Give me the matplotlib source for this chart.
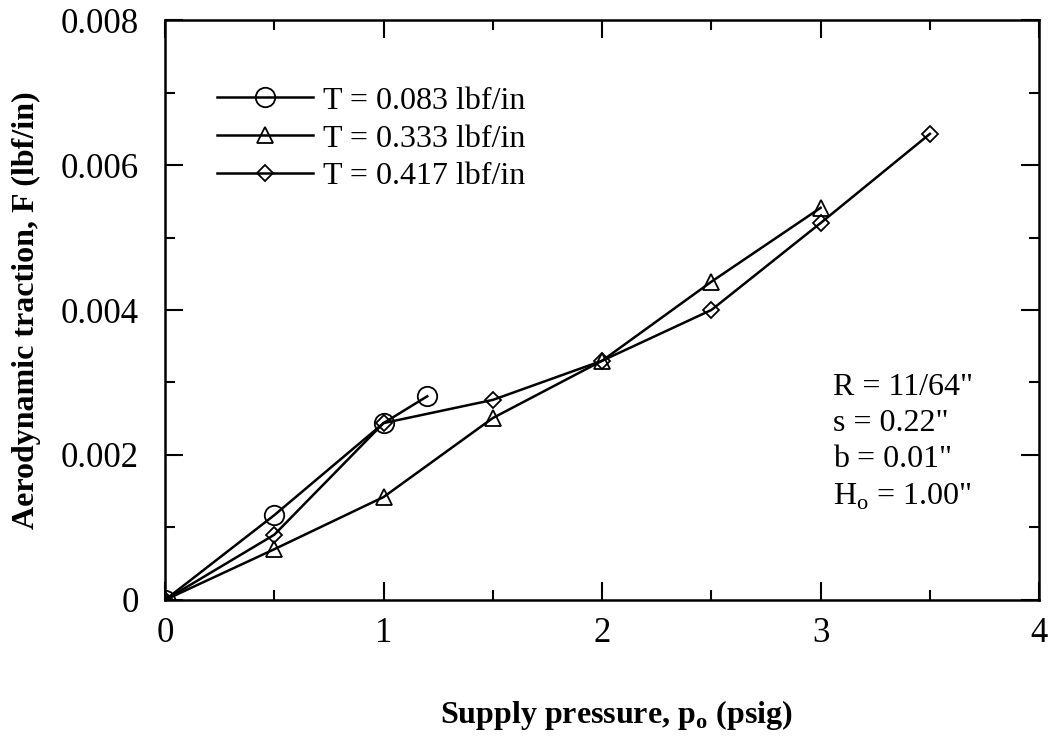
import numpy as np
import matplotlib
matplotlib.use('Agg')
import matplotlib.pyplot as plt
from matplotlib.ticker import MultipleLocator

plt.rcParams['font.family'] = ['Liberation Serif', 'DejaVu Serif']
plt.rcParams['mathtext.fontset'] = 'custom'
plt.rcParams['mathtext.rm'] = 'Liberation Serif'
plt.rcParams['mathtext.bf'] = 'Liberation Serif:bold'

# data
p_083 = [0, 0.5, 1.0, 1.2]
F_083 = [0, 0.00117, 0.00244, 0.00281]

p_333 = [0, 0.5, 1.0, 1.5, 2.0, 2.5, 3.0]
F_333 = [0, 0.0007, 0.00142, 0.00251, 0.0033, 0.00439, 0.00541]

p_417 = [0, 0.5, 1.0, 1.5, 2.0, 2.5, 3.0, 3.5]
F_417 = [0, 0.0009, 0.00244, 0.00276, 0.0033, 0.0040, 0.0052, 0.00643]

labels = ['T = 0.083 lbf/in', 'T = 0.333 lbf/in', 'T = 0.417 lbf/in']
xticks = [0, 1, 2, 3, 4]
yticks = [0, 0.002, 0.004, 0.006, 0.008]
ytick_labels = ['0', '0.002', '0.004', '0.006', '0.008']

fig = plt.figure(figsize=(10.55, 7.36), dpi=100)
ax = fig.add_axes([0.1564, 0.1848, 0.8286, 0.788])

lw = 1.8
ax.plot(p_083, F_083, color='black', lw=lw, marker='o', ms=14, mfc='none', mew=1.3, label=labels[0])
ax.plot(p_333, F_333, color='black', lw=lw, marker='^', ms=12, mfc='none', mew=1.3, label=labels[1])
ax.plot(p_417, F_417, color='black', lw=lw, marker='D', ms=8.5, mfc='none', mew=1.3, label=labels[2])

ax.set_xlim(0, 4)
ax.set_ylim(0, 0.008)
ax.set_xticks(xticks)
ax.set_xticklabels([str(v) for v in xticks])
ax.set_yticks(yticks)
ax.set_yticklabels(ytick_labels)
ax.xaxis.set_minor_locator(MultipleLocator(0.5))
ax.yaxis.set_minor_locator(MultipleLocator(0.001))

ax.tick_params(which='both', direction='in', top=True, right=True, width=1.5)
ax.tick_params(which='major', length=13, labelsize=25)
ax.tick_params(which='minor', length=7)
ax.tick_params(axis='x', which='major', pad=12)
ax.tick_params(axis='y', which='major', pad=19)
for s in ax.spines.values():
    s.set_linewidth(1.8)

ax.set_xlabel(r'Supply pressure, p$_\mathbf{o}$ (psig)', fontsize=23, fontweight='bold', labelpad=35)
ax.xaxis.label.set_x(0.516)
ax.set_ylabel('Aerodynamic traction, F (lbf/in)', fontsize=23, fontweight='bold', labelpad=14)

ax.legend(loc='upper left', bbox_to_anchor=(0.045, 0.908), borderaxespad=0, frameon=False,
          fontsize=23, handlelength=3.0, handletextpad=0.3, labelspacing=0.27)

ax.text(0.764, 0.391, "R = 11/64\"\ns = 0.22\"\nb = 0.01\"\nH$_\\mathrm{o}$ = 1.00\"",
        transform=ax.transAxes, fontsize=23, va='top', ha='left', linespacing=1.32)

fig.savefig('out.png', dpi=100)
